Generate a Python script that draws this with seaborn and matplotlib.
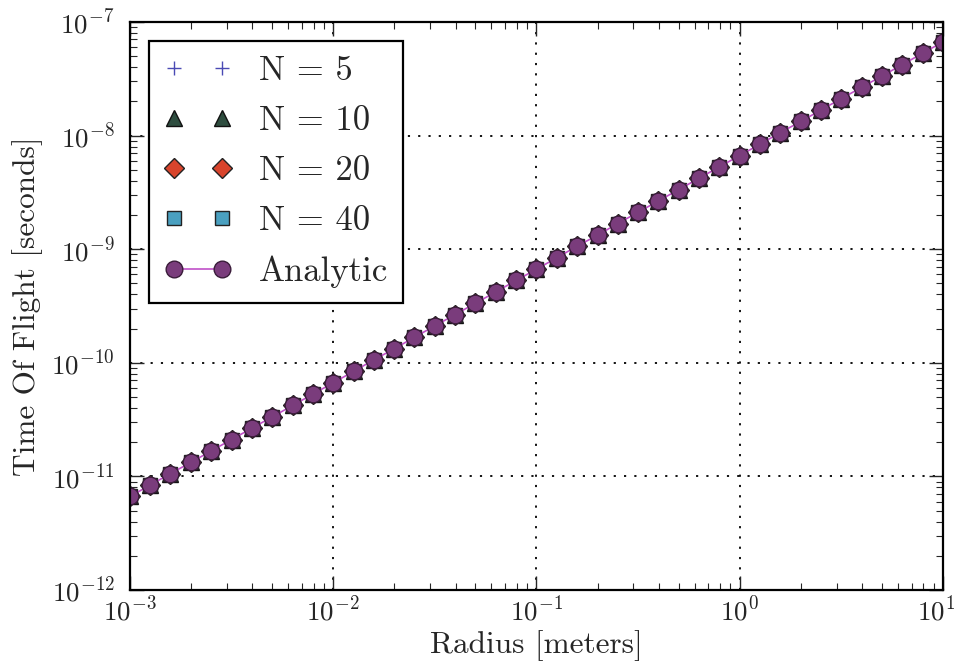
import matplotlib
matplotlib.use("Agg")
import matplotlib.pyplot as plt
import matplotlib.transforms as mtransforms
import seaborn as sns
import pandas as pd

radius_m = [
    1.00e-3, 1.26e-3, 1.58e-3, 2.00e-3, 2.51e-3, 3.16e-3, 3.98e-3, 5.01e-3, 6.31e-3, 7.94e-3,
    1.00e-2, 1.26e-2, 1.58e-2, 2.00e-2, 2.51e-2, 3.16e-2, 3.98e-2, 5.01e-2, 6.31e-2, 7.94e-2,
    1.00e-1, 1.26e-1, 1.58e-1, 2.00e-1, 2.51e-1, 3.16e-1, 3.98e-1, 5.01e-1, 6.31e-1, 7.94e-1,
    1.00e0, 1.26e0, 1.58e0, 2.00e0, 2.51e0, 3.16e0, 3.98e0, 5.01e0, 6.31e0, 7.94e0,
    1.00e1,
]
tof_analytic = [
    6.67e-12, 8.40e-12, 1.06e-11, 1.33e-11, 1.68e-11, 2.11e-11, 2.66e-11, 3.34e-11, 4.21e-11, 5.30e-11,
    6.67e-11, 8.40e-11, 1.06e-10, 1.33e-10, 1.68e-10, 2.11e-10, 2.66e-10, 3.34e-10, 4.21e-10, 5.30e-10,
    6.67e-10, 8.40e-10, 1.06e-9, 1.33e-9, 1.68e-9, 2.11e-9, 2.66e-9, 3.34e-9, 4.21e-9, 5.30e-9,
    6.67e-9, 8.40e-9, 1.06e-8, 1.33e-8, 1.68e-8, 2.11e-8, 2.66e-8, 3.34e-8, 4.21e-8, 5.30e-8,
    6.67e-8,
]
# numerical results coincide with the analytic curve in the picture
tof_n5 = list(tof_analytic)
tof_n10 = list(tof_analytic)
tof_n20 = list(tof_analytic)
tof_n40 = list(tof_analytic)

series_labels = ["N = 5", "N = 10", "N = 20", "N = 40", "Analytic"]
x_ticks = [1e-3, 1e-2, 1e-1, 1e0, 1e1]
y_ticks = [1e-12, 1e-11, 1e-10, 1e-9, 1e-8, 1e-7]

sns.set_style("ticks")
plt.rcParams.update({
    "font.family": ["cmr10", "DejaVu Serif"],
    "mathtext.fontset": "cm",
    "axes.unicode_minus": False,
    "axes.formatter.use_mathtext": True,
    "xtick.direction": "in",
    "ytick.direction": "in",
    "xtick.top": True,
    "ytick.right": True,
})

fig = plt.figure(figsize=(9.57, 6.63), dpi=100)
ax = fig.add_axes([0.1358, 0.110, 0.8496, 0.857])

styles = [
    (tof_n5, dict(marker="+", markersize=10, color="#4a4ab4", markeredgecolor="#4a4ab4",
                  markeredgewidth=1.0)),
    (tof_n10, dict(marker="^", markersize=12, color="#2e4d3f", markeredgecolor="#111111",
                   markeredgewidth=1.0)),
    (tof_n20, dict(marker="D", markersize=10, color="#d8442c", markeredgecolor="#222222",
                   markeredgewidth=1.0)),
    (tof_n40, dict(marker="s", markersize=10.5, color="#4aa0c0", markeredgecolor="#222222",
                   markeredgewidth=1.0)),
]
for (vals, kw), lab in zip(styles, series_labels[:4]):
    df = pd.DataFrame({"r": radius_m, "t": vals})
    sns.lineplot(data=df, x="r", y="t", ax=ax, linestyle="none", label=lab, **kw)

df_a = pd.DataFrame({"r": radius_m, "t": tof_analytic})
sns.lineplot(data=df_a, x="r", y="t", ax=ax, label=series_labels[4], color="#c050c8",
             linewidth=1.2, marker="o", markersize=12, markerfacecolor="#7a3c7c",
             markeredgecolor="#3a1c3a", markeredgewidth=1.0)

ax.set_xscale("log")
ax.set_yscale("log")
ax.set_xlim(1e-3, 1e1)
ax.set_ylim(1e-12, 1e-7)
ax.set_xticks(x_ticks)
ax.set_yticks(y_ticks)
ax.grid(True, which="major", color="black", linestyle=(0, (1.2, 4.5)), linewidth=1.3)
ax.tick_params(which="major", length=10, width=1.0, labelsize=19.5)
ax.tick_params(axis="x", which="major", pad=4)
ax.tick_params(axis="y", which="major", pad=11)
ax.tick_params(which="minor", length=5, width=0.8)
for s in ax.spines.values():
    s.set_linewidth(1.6)
    s.set_color("black")

ax.set_xlabel("Radius [meters]", fontsize=22.5, labelpad=3)
ax.set_ylabel("Time Of Flight [seconds]", fontsize=22.5, labelpad=6)

# nudge the right-most x tick label so it stays inside the canvas
fig.canvas.draw()
last_lab = ax.get_xticklabels()[-1]
last_lab.set_transform(last_lab.get_transform() +
                       mtransforms.ScaledTranslation(-7 / 100, 0, fig.dpi_scale_trans))

leg = ax.legend(loc="upper left", numpoints=2, fontsize=25, frameon=True, fancybox=False,
                edgecolor="black", framealpha=1, borderpad=0.42, handlelength=1.98,
                labelspacing=0.53, handletextpad=0.77, borderaxespad=0.55)
leg.get_frame().set_linewidth(1.6)

fig.savefig("out.png", dpi=100)
